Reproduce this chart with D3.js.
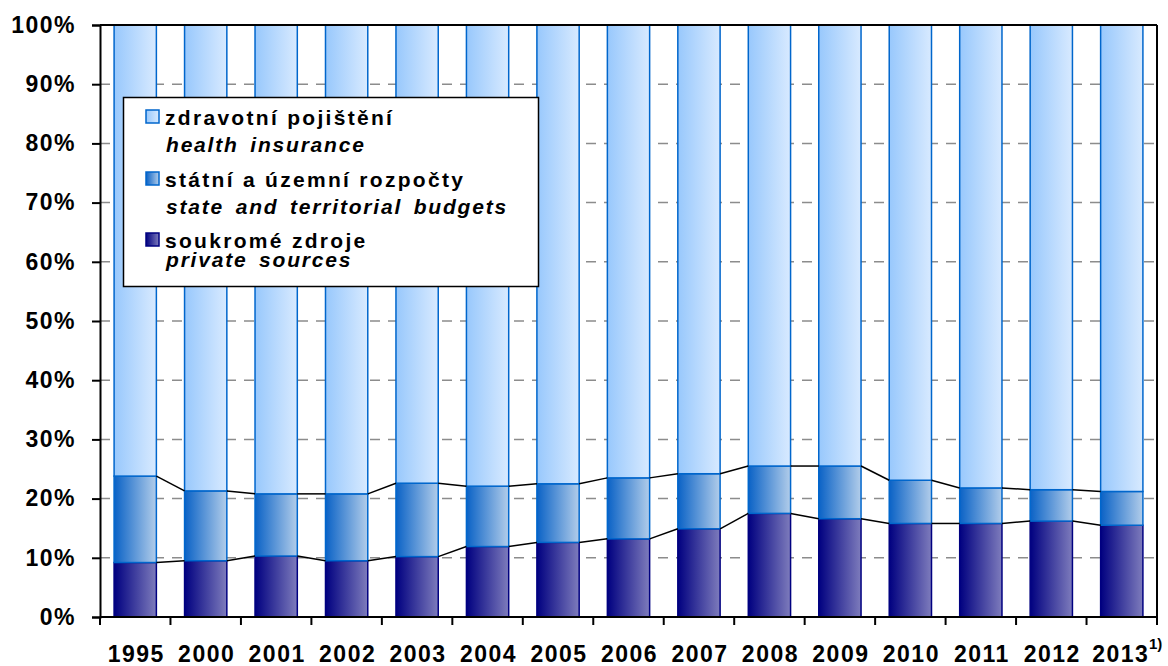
<!DOCTYPE html>
<meta charset="utf-8">
<style>
body { margin: 0; background: #fff; }
text { font-family: Arial, "Liberation Sans", sans-serif; font-weight: bold; }
</style>
<body>
<div id="chart"></div>
<script src="https://d3js.org/d3.v7.min.js"></script>
<script>

var years = ["1995","2000","2001","2002","2003","2004","2005","2006","2007","2008","2009","2010","2011","2012","2013"];
// private sources share (%)
var privateShare = [9.2, 9.5, 10.3, 9.5, 10.2, 11.9, 12.6, 13.2, 14.9, 17.5, 16.6, 15.8, 15.8, 16.2, 15.5];
// state and territorial budgets share (%)
var stateShare = [14.6, 11.8, 10.5, 11.3, 12.4, 10.2, 9.9, 10.3, 9.3, 8.0, 8.9, 7.3, 6.0, 5.3, 5.7];
// health insurance = remainder
var insuranceShare = years.map(function(y, i) { return +(100 - privateShare[i] - stateShare[i]).toFixed(1); });

var yTicks = [0, 10, 20, 30, 40, 50, 60, 70, 80, 90, 100];

var width = 1168, height = 666,
    margin = {left: 100, right: 11, top: 25, bottom: 49};

var svg = d3.select("#chart").append("svg")
    .attr("width", width)
    .attr("height", height);

var defs = svg.append("defs");
function grad(id, c0, c1) {
  var g = defs.append("linearGradient").attr("id", id)
    .attr("x1", "0%").attr("x2", "100%").attr("y1", "0%").attr("y2", "0%");
  g.append("stop").attr("offset", "0%").attr("stop-color", c0);
  g.append("stop").attr("offset", "100%").attr("stop-color", c1);
}
grad("gInsurance", "#98c8fc", "#d8eaff");
grad("gState", "#0a62c6", "#b2cdea");
grad("gPrivate", "#000080", "#7e7cbc");

var series = [
  {key: "private", values: privateShare, fill: "url(#gPrivate)", stroke: "#000080"},
  {key: "state", values: stateShare, fill: "url(#gState)", stroke: "#0066cc"},
  {key: "insurance", values: insuranceShare, fill: "url(#gInsurance)", stroke: "#0066cc"}
];

var x = d3.scaleBand()
    .domain(years)
    .range([margin.left, width - margin.right])
    .paddingInner(0.4)
    .paddingOuter(0.2);

var xOuter = d3.scaleBand()
    .domain(years)
    .range([margin.left, width - margin.right]);

var y = d3.scaleLinear()
    .domain([0, 100])
    .range([height - margin.bottom, margin.top]);

// stack
var rows = years.map(function(yr, i) {
  return {year: yr, private: privateShare[i], state: stateShare[i], insurance: insuranceShare[i]};
});
var stack = d3.stack().keys(["private", "state", "insurance"]);
var stacked = stack(rows);

// gridlines
svg.append("g")
  .selectAll("line")
  .data(yTicks.filter(function(t) { return t > 0 && t < 100; }))
  .enter().append("line")
  .attr("x1", margin.left)
  .attr("x2", width - margin.right)
  .attr("y1", function(d) { return y(d); })
  .attr("y2", function(d) { return y(d); })
  .attr("stroke", "#8c8c8c")
  .attr("stroke-width", 1.5)
  .attr("stroke-dasharray", "10,8");

// bars
stacked.forEach(function(layer, li) {
  svg.append("g")
    .selectAll("rect")
    .data(layer)
    .enter().append("rect")
    .attr("x", function(d) { return x(d.data.year); })
    .attr("width", x.bandwidth())
    .attr("y", function(d) { return y(Math.min(d[1], 100)); })
    .attr("height", function(d) { return y(d[0]) - y(Math.min(d[1], 100)); })
    .attr("fill", series[li].fill)
    .attr("stroke", series[li].stroke)
    .attr("stroke-width", 1.5);
});

// series lines between bars
[0, 1].forEach(function(li) {
  var layer = stacked[li];
  for (var i = 0; i < layer.length - 1; i++) {
    svg.append("line")
      .attr("x1", x(years[i]) + x.bandwidth())
      .attr("x2", x(years[i + 1]))
      .attr("y1", y(layer[i][1]))
      .attr("y2", y(layer[i + 1][1]))
      .attr("stroke", "#000")
      .attr("stroke-width", 1.5);
  }
});

// frame: top and right
svg.append("line")
  .attr("x1", margin.left).attr("x2", width - margin.right)
  .attr("y1", y(100)).attr("y2", y(100))
  .attr("stroke", "#000").attr("stroke-width", 2);
svg.append("line")
  .attr("x1", width - margin.right).attr("x2", width - margin.right)
  .attr("y1", y(100)).attr("y2", y(0))
  .attr("stroke", "#000").attr("stroke-width", 2);

// y axis
var yAxis = svg.append("g")
  .attr("transform", "translate(" + margin.left + ",0)")
  .call(d3.axisLeft(y).tickValues(yTicks).tickFormat(function(d) { return d + "%"; }).tickSize(8).tickPadding(4));
yAxis.select(".domain").attr("stroke", "#000").attr("stroke-width", 2);
yAxis.selectAll(".tick line").attr("stroke", "#000").attr("stroke-width", 2);
yAxis.selectAll("text")
  .attr("font-size", 23)
  .attr("font-family", "Arial, 'Liberation Sans', sans-serif")
  .attr("font-weight", "bold")
  .attr("fill", "#000")
  .attr("letter-spacing", "1.5px")
  .attr("x", -24);

// x axis with ticks at band boundaries
var xAxisG = svg.append("g")
  .attr("transform", "translate(0," + y(0) + ")");
xAxisG.append("line")
  .attr("x1", margin.left).attr("x2", width - margin.right)
  .attr("stroke", "#000").attr("stroke-width", 2);
xAxisG.selectAll(".xtick")
  .data(years.concat(["end"]))
  .enter().append("line")
  .attr("x1", function(d, i) { return i < years.length ? xOuter(d) : width - margin.right; })
  .attr("x2", function(d, i) { return i < years.length ? xOuter(d) : width - margin.right; })
  .attr("y1", 0).attr("y2", 8)
  .attr("stroke", "#000").attr("stroke-width", 2);
xAxisG.selectAll(".xlabel")
  .data(years)
  .enter().append("text")
  .attr("x", function(d) { return xOuter(d) + xOuter.bandwidth() / 2 + (d === "2013" ? -1 : 1); })
  .attr("y", 45)
  .attr("text-anchor", "middle")
  .attr("font-size", 23)
  .attr("letter-spacing", "1.5px")
  .text(function(d) { return d; });
xAxisG.append("text")
  .attr("x", 1149)
  .attr("y", 32)
  .attr("font-size", 15)
  .text("1)");

// legend
var legendItems = [
  {cz: "zdravotní pojištění", en: "health insurance", fill: "url(#gInsurance)", stroke: "#0066cc"},
  {cz: "státní a územní rozpočty", en: "state and territorial budgets", fill: "url(#gState)", stroke: "#0066cc"},
  {cz: "soukromé zdroje", en: "private sources", fill: "url(#gPrivate)", stroke: "#000080"}
];
var legend = svg.append("g");
legend.append("rect")
  .attr("x", 123.5).attr("y", 97.5)
  .attr("width", 415).attr("height", 189)
  .attr("fill", "#fff")
  .attr("stroke", "#000")
  .attr("stroke-width", 1.5);
var itemY = [125, 187, 248];
var li = legend.selectAll(".item")
  .data(legendItems)
  .enter().append("g")
  .attr("transform", function(d, i) { return "translate(0," + itemY[i] + ")"; });
li.append("rect")
  .attr("x", 146).attr("y", -15)
  .attr("width", 13).attr("height", 13)
  .attr("fill", function(d) { return d.fill; })
  .attr("stroke", function(d) { return d.stroke; })
  .attr("stroke-width", 1.5);
li.append("text")
  .attr("x", 165).attr("y", 0)
  .attr("font-size", 21)
  .attr("letter-spacing", "2.3px")
  .text(function(d) { return d.cz; });
li.append("text")
  .attr("x", 166).attr("y", function(d, i) { return i === 2 ? 19 : 27; })
  .attr("font-size", 21)
  .attr("font-style", "italic")
  .attr("letter-spacing", "1.8px")
  .attr("word-spacing", "4px")
  .text(function(d) { return d.en; });

</script>
</body>
